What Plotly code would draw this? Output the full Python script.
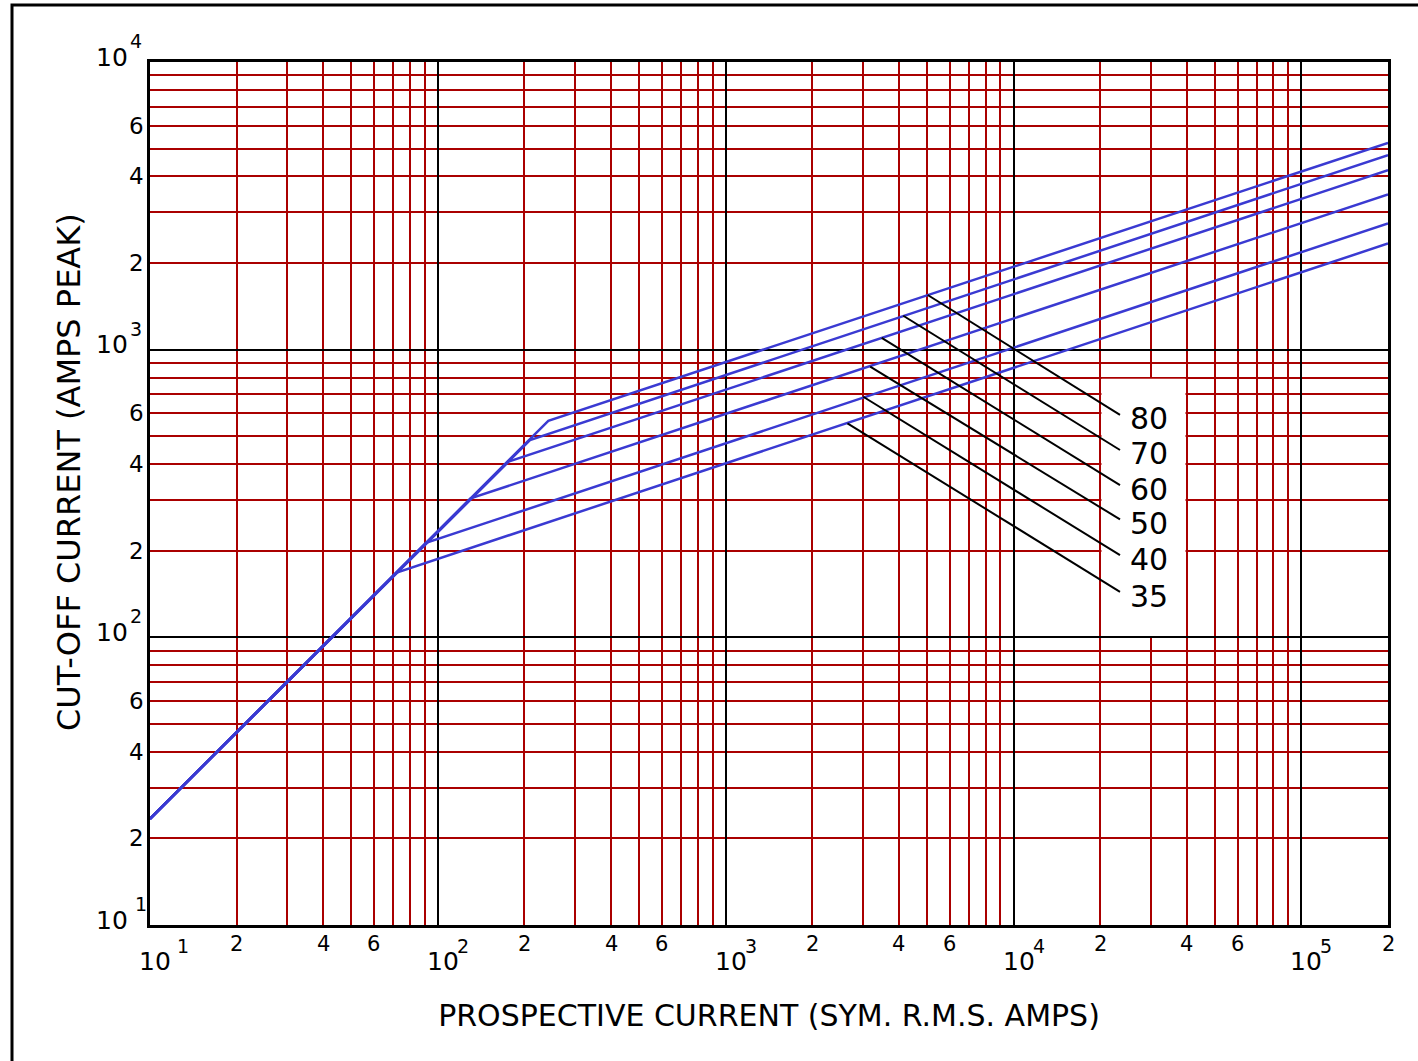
import numpy as np
import plotly.graph_objects as go

# ---------------- data ----------------
ratings = [35, 40, 50, 60, 70, 80]
start_x = 10
start_y = 23.4
break_x = [72, 91, 130, 176, 209, 242]
break_y = [168, 213, 304, 408, 485, 566]
end_x = 2e5
end_y = [2339, 2748, 3467, 4209, 4746, 5236]

# leader lines (from curve to rating label)
leader_start_x = [2649, 3006, 3177, 3484, 4140, 5035]
leader_start_y = [554, 686, 873, 1099, 1312, 1549]
leader_end_x = 23440
leader_end_y = [144, 193, 257, 338, 448, 593]
label_x = 29580
label_y = [139, 186, 248, 327, 437, 578]

# white label panel
panel_x = [2e4, 4e4]
panel_y = [100, 800]

# axes / ticks
x_decades = [10, 100, 1000, 10000, 100000]
x_exponents = ["1", "2", "3", "4", "5"]
y_decades = [10, 100, 1000, 10000]
y_exponents = ["1", "2", "3", "4"]
x_minor_labels = [20, 40, 60, 200, 400, 600, 2000, 4000, 6000, 20000, 40000, 60000, 200000]
x_minor_text = ["2", "4", "6", "2", "4", "6", "2", "4", "6", "2", "4", "6", "2"]
y_minor_labels = [20, 40, 60, 200, 400, 600, 2000, 4000, 6000]
y_minor_text = ["2", "4", "6", "2", "4", "6", "2", "4", "6"]
x_minor_grid = [m * 10 ** d for d in range(1, 5) for m in range(2, 10)]
y_minor_grid = [m * 10 ** d for d in range(1, 4) for m in range(2, 10)]

x_title = "PROSPECTIVE CURRENT (SYM. R.M.S. AMPS)"
y_title = "CUT-OFF CURRENT (AMPS PEAK)"

# ---------------- style ----------------
W, H = 1418, 1061
L, R, T, B = 150, 1388, 62, 925
RED = "#aa0000"
BLUE = "#3a3ad2"
FONT = "DejaVu Sans"
PX_PER_DEC = (R - L) / np.log10(2e5 / 10)

fig = go.Figure()

for r, bx, by, ey in zip(ratings, break_x, break_y, end_y):
    fig.add_trace(go.Scatter(
        x=[start_x, bx, end_x], y=[start_y, by, ey], mode="lines",
        line=dict(color=BLUE, width=2.5), name=str(r),
        showlegend=False, hoverinfo="skip"))

for sx, sy, ey in zip(leader_start_x, leader_start_y, leader_end_y):
    fig.add_trace(go.Scatter(
        x=[sx, leader_end_x], y=[sy, ey], mode="lines",
        line=dict(color="black", width=2), showlegend=False, hoverinfo="skip"))

inset = 10 ** (1.3 / PX_PER_DEC)
fig.add_shape(type="rect", xref="x", yref="y", layer="between",
              x0=panel_x[0] * inset, x1=panel_x[1] / inset,
              y0=panel_y[0] * inset, y1=panel_y[1] / inset,
              fillcolor="white", line=dict(width=0))

# outer drawing frame
fig.add_shape(type="rect", xref="paper", yref="paper",
              x0=(12 - L) / (R - L), x1=(1430 - L) / (R - L),
              y0=(B - 1075) / (B - T), y1=(B - 5) / (B - T),
              line=dict(color="black", width=3), fillcolor="rgba(0,0,0,0)")

ann = []
# y-axis title (placed as in the drawing, slightly above axis centre)
ann.append(dict(x=(69 - L) / (R - L), y=(B - 472) / (B - T), xref="paper", yref="paper",
                text=y_title, textangle=-90, showarrow=False,
                xanchor="center", yanchor="middle",
                font=dict(family=FONT, size=32, color="black")))

# rating labels
for r, ly in zip(ratings, label_y):
    ann.append(dict(x=np.log10(label_x), y=np.log10(ly), xref="x", yref="y",
                    text=str(r), showarrow=False, xanchor="center", yanchor="middle",
                    font=dict(family=FONT, size=30, color="black")))

# x tick labels
for v, e in zip(x_decades, x_exponents):
    ann.append(dict(x=np.log10(v), y=0, xref="x", yref="paper", text="10",
                    showarrow=False, xanchor="left", yanchor="middle",
                    xshift=-13, yshift=-36,
                    font=dict(family=FONT, size=25, color="black")))
    ann.append(dict(x=np.log10(v), y=0, xref="x", yref="paper", text=e,
                    showarrow=False, xanchor="left", yanchor="middle",
                    xshift=17 + (8 if e == "1" else 0), yshift=-21,
                    font=dict(family=FONT, size=19, color="black")))
for v, t in zip(x_minor_labels, x_minor_text):
    ann.append(dict(x=np.log10(v), y=0, xref="x", yref="paper", text=t,
                    showarrow=False, xanchor="center", yanchor="middle",
                    yshift=-19, font=dict(family=FONT, size=21, color="black")))

# y tick labels
for v, e in zip(y_decades, y_exponents):
    ann.append(dict(x=0, y=np.log10(v), xref="paper", yref="y", text="10",
                    showarrow=False, xanchor="right", yanchor="middle",
                    xshift=-20, yshift=5,
                    font=dict(family=FONT, size=25, color="black")))
    ann.append(dict(x=0, y=np.log10(v), xref="paper", yref="y", text=e,
                    showarrow=False, xanchor="left", yanchor="middle",
                    xshift=-22 + (5 if e == "1" else 0), yshift=21,
                    font=dict(family=FONT, size=19, color="black")))
for v, t in zip(y_minor_labels, y_minor_text):
    ann.append(dict(x=0, y=np.log10(v), xref="paper", yref="y", text=t,
                    showarrow=False, xanchor="right", yanchor="middle",
                    xshift=-4, font=dict(family=FONT, size=23, color="black")))

axis_common = dict(type="log", tickmode="array", showticklabels=False, ticks="",
                   showgrid=True, gridcolor="black", gridwidth=2,
                   showline=True, linecolor="black", linewidth=3, mirror=True,
                   zeroline=False, fixedrange=True)

fig.update_layout(
    width=W, height=H, autosize=False,
    margin=dict(l=L, r=W - R, t=T, b=H - B, pad=0),
    paper_bgcolor="white", plot_bgcolor="white",
    showlegend=False,
    annotations=ann,
    xaxis=dict(axis_common, range=[1, np.log10(2e5)], tickvals=x_decades,
               minor=dict(tickmode="array", tickvals=x_minor_grid, showgrid=True,
                          gridcolor=RED, gridwidth=2, ticks=""),
               title=dict(text=x_title, standoff=78,
                          font=dict(family=FONT, size=30, color="black"))),
    yaxis=dict(axis_common, range=[1, 4], tickvals=y_decades,
               minor=dict(tickmode="array", tickvals=y_minor_grid, showgrid=True,
                          gridcolor=RED, gridwidth=2, ticks="")),
)

fig.write_html("out.html")
